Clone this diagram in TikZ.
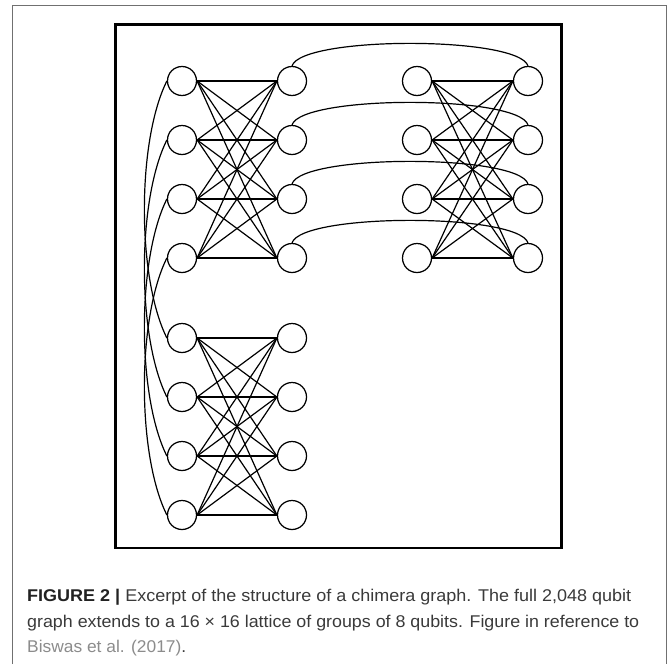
\documentclass[tikz,border=0pt]{standalone}
\usepackage{fontspec}
\usepackage{graphicx}
\setmainfont{Liberation Sans}
\definecolor{framegray}{HTML}{707070}
\definecolor{captext}{HTML}{3A3A3A}
\definecolor{capbold}{HTML}{222222}
\definecolor{linkgray}{HTML}{8C8C8C}
\begin{document}
\begin{tikzpicture}[x=1pt,y=-1pt,
  qubit/.style={circle,draw,minimum size=29pt,inner sep=0pt,line width=1.25pt,fill=white},
  coupler/.style={line width=1.2pt},
  capline/.style={anchor=base west,inner sep=0pt,text=captext,font=\fontsize{17}{20}\selectfont}]
\useasboundingbox (0,0) rectangle (668,664);
\fill[white] (0,0) rectangle (668,664);
% outer figure frame (open at the bottom)
\draw[framegray,line width=1pt] (12,664) -- (12,5) -- (666,5) -- (666,664);
% panel border
\draw[line width=2.6pt] (115.5,24.3) rectangle (561.7,548);

% qubits: top-left cell (a,b), top-right cell (c,d), bottom-left cell (e,f)
\foreach \r/\y in {1/81,2/140,3/199,4/258} {
  \node[qubit] (a\r) at (182,\y) {};
  \node[qubit] (b\r) at (292,\y) {};
  \node[qubit] (c\r) at (417,\y) {};
  \node[qubit] (d\r) at (528,\y) {};
}
\foreach \r/\y in {1/338,2/397,3/456,4/515} {
  \node[qubit] (e\r) at (182,\y) {};
  \node[qubit] (f\r) at (292,\y) {};
}

% intra-cell couplers (complete bipartite K4,4)
\foreach \i in {1,...,4} {
  \foreach \j in {1,...,4} {
    \draw[coupler] (a\i.east) -- (b\j.west);
    \draw[coupler] (c\i.east) -- (d\j.west);
    \draw[coupler] (e\i.east) -- (f\j.west);
  }
}

% horizontal inter-cell couplers
\foreach \i in {1,...,4} {
  \draw[coupler] (b\i.north) .. controls +(10,-30) and +(-10,-30) .. (d\i.north);
}
% vertical inter-cell couplers
\foreach \i in {1,...,4} {
  \draw[coupler] (a\i.west) .. controls +(-30,60) and +(-30,-60) .. (e\i.west);
}

% caption
\node[capline] (cap1) at (27,601)
  {\resizebox{604pt}{\height}{\textcolor{capbold}{\bfseries FIGURE 2 \textbar} Excerpt of the structure of a chimera graph. The full 2,048 qubit}};
\node[capline] (cap2) at (27,627)
  {\resizebox{612pt}{\height}{graph extends to a 16 × 16 lattice of groups of 8 qubits. Figure in reference to}};
\node[capline] (cap3) at (27,652)
  {\resizebox{159pt}{\height}{\textcolor{linkgray}{Biswas et al. (2017)}.}};
\end{tikzpicture}
\end{document}
